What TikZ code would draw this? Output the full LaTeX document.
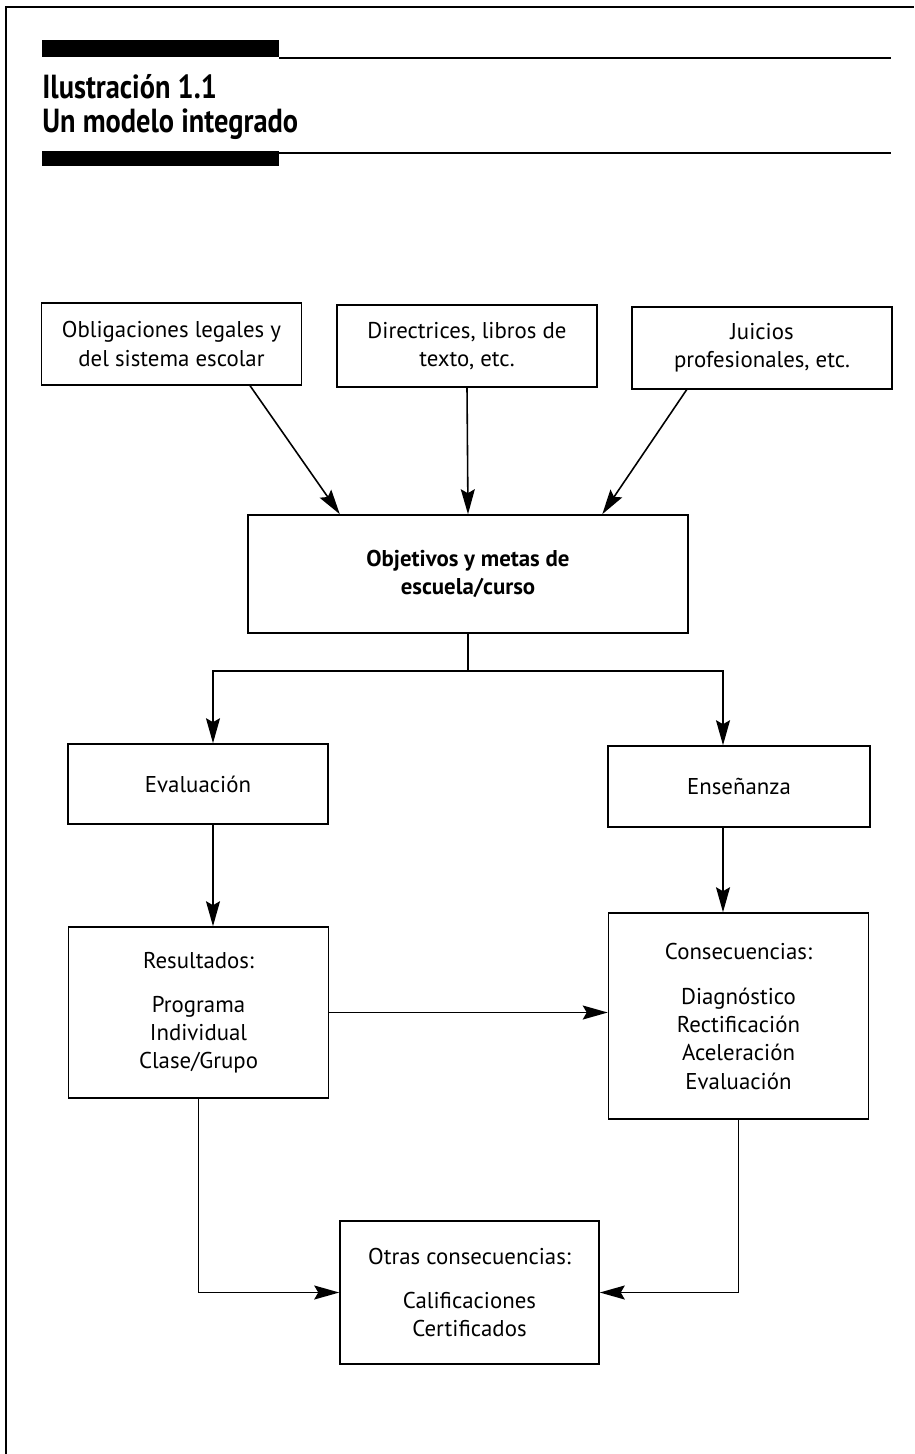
\documentclass[tikz,border=0pt]{standalone}
\usepackage{fontspec}
\setmainfont{PT Sans}
\newfontfamily\headfont{PT Sans}[FakeStretch=0.85]
\usetikzlibrary{arrows.meta,positioning}

\begin{document}
\begin{tikzpicture}[
    x=0.02cm, y=-0.02cm,
    block/.style={rectangle, draw, line width=0.9pt, minimum width=5.2cm, minimum height=1.64cm, align=center, font=\fontsize{13}{16}\selectfont, inner sep=2pt},
    blockb/.style={block, font=\fontsize{13}{16}\selectfont\bfseries},
    arrow/.style={-{Stealth[length=0.5cm, width=0.28cm, inset=0.08cm]}, line width=0.9pt},
    link/.style={line width=0.9pt},
    headrule/.style={line width=0.8pt},
    heading/.style={anchor=base west, inner sep=0pt, font=\headfont\bfseries\fontsize{19}{22}\selectfont}
]

% Page frame
\useasboundingbox (0,0) rectangle (914,1454);
\draw[link] (6,1454) -- (6,7) -- (914,7);

% Heading
\fill (42,40) rectangle (279,57);
\draw[headrule] (279,58) -- (891,58);
\node[heading] (title) at (42,98) {Ilustración 1.1};
\node[heading] (subtitle) at (42,132) {Un modelo integrado};
\fill (42,151) rectangle (279,166);
\draw[headrule] (279,153) -- (891,153);

% Sources
\node[block] (oblig) at (171.5,344) {Obligaciones legales y\\del sistema escolar};
\node[block] (direct) at (467,346) {Directrices, libros de\\texto, etc.};
\node[block] (juicio) at (762,348) {Juicios\\profesionales, etc.};

% Goals
\node[blockb, minimum width=8.8cm, minimum height=2.36cm] (objet) at (468,574) {Objetivos y metas de\\escuela/curso};

% Two branches
\node[block, minimum height=1.6cm] (eval) at (198,784) {Evaluación};
\node[block, minimum width=5.24cm, minimum height=1.62cm] (ensen) at (739,786.5) {Enseñanza};
\node[block, minimum height=3.42cm] (result) at (198.5,1012.5) {Resultados:\\[9pt]Programa\\Individual\\Clase/Grupo};
\node[block, minimum height=4.12cm] (consec) at (738.5,1016) {Consecuencias:\\[10pt]Diagnóstico\\Rectificación\\Aceleración\\Evaluación};

% Other consequences
\node[block, minimum width=5.18cm, minimum height=2.86cm] (otras) at (469.5,1292.5) {Otras consecuencias:\\[9pt]Calificaciones\\Certificados};

% Arrows - into goals
\draw[arrow] (oblig.-28) -- (objet.155);
\draw[arrow] (direct.south) -- (objet.north);
\draw[arrow] (juicio.-151.7) -- (objet.24.6);

% Arrows - split
\draw[link] (objet.south) -- ++(0,37) coordinate (split);
\draw[arrow] (split) -| ([xshift=0.3cm]eval.north);
\draw[arrow] (split) -| ([xshift=-0.32cm]ensen.north);

% Arrows - down the columns
\draw[arrow] ([xshift=0.3cm]eval.south) -- ([xshift=0.3cm]eval.south |- result.north);
\draw[arrow] ([xshift=-0.32cm]ensen.south) -- ([xshift=-0.32cm]ensen.south |- consec.north);
\draw[arrow] (result.east) -- (result.east -| consec.west);

% Arrows - into other consequences
\draw[arrow] (result.south) |- (otras.west);
\draw[arrow] (consec.south) |- (otras.east);

\end{tikzpicture}
\end{document}
